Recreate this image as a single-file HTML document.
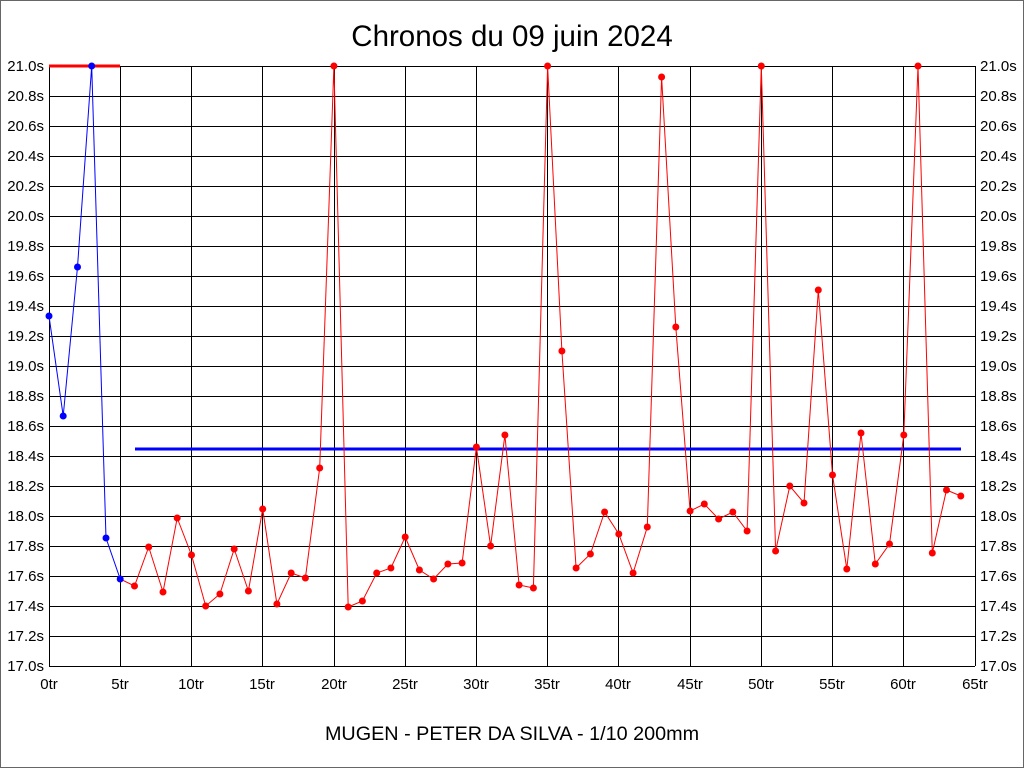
<!DOCTYPE html>
<html><head><style>body{margin:0;background:#fff}svg{display:block}</style></head><body>
<svg width="1024" height="768" xmlns="http://www.w3.org/2000/svg" font-family="Liberation Sans, sans-serif">
<rect x="0.5" y="0.5" width="1023" height="767" fill="#fff" stroke="#666"/>
<text x="512" y="46" font-size="29.5" text-anchor="middle">Chronos du 09 juin 2024</text>
<text x="512" y="740" font-size="19.8" text-anchor="middle">MUGEN - PETER DA SILVA - 1/10 200mm</text>
<g stroke="#000" stroke-width="1">
<line x1="49" x2="975" y1="66.5" y2="66.5"/><line x1="49" x2="975" y1="96.5" y2="96.5"/><line x1="49" x2="975" y1="126.5" y2="126.5"/><line x1="49" x2="975" y1="156.5" y2="156.5"/><line x1="49" x2="975" y1="186.5" y2="186.5"/><line x1="49" x2="975" y1="216.5" y2="216.5"/><line x1="49" x2="975" y1="246.5" y2="246.5"/><line x1="49" x2="975" y1="276.5" y2="276.5"/><line x1="49" x2="975" y1="306.5" y2="306.5"/><line x1="49" x2="975" y1="336.5" y2="336.5"/><line x1="49" x2="975" y1="366.5" y2="366.5"/><line x1="49" x2="975" y1="396.5" y2="396.5"/><line x1="49" x2="975" y1="426.5" y2="426.5"/><line x1="49" x2="975" y1="456.5" y2="456.5"/><line x1="49" x2="975" y1="486.5" y2="486.5"/><line x1="49" x2="975" y1="516.5" y2="516.5"/><line x1="49" x2="975" y1="546.5" y2="546.5"/><line x1="49" x2="975" y1="576.5" y2="576.5"/><line x1="49" x2="975" y1="606.5" y2="606.5"/><line x1="49" x2="975" y1="636.5" y2="636.5"/><line x1="49" x2="975" y1="666.5" y2="666.5"/>
<line y1="66" y2="666" x1="49.5" x2="49.5"/><line y1="66" y2="666" x1="120.5" x2="120.5"/><line y1="66" y2="666" x1="191.5" x2="191.5"/><line y1="66" y2="666" x1="262.5" x2="262.5"/><line y1="66" y2="666" x1="334.5" x2="334.5"/><line y1="66" y2="666" x1="405.5" x2="405.5"/><line y1="66" y2="666" x1="476.5" x2="476.5"/><line y1="66" y2="666" x1="547.5" x2="547.5"/><line y1="66" y2="666" x1="618.5" x2="618.5"/><line y1="66" y2="666" x1="690.5" x2="690.5"/><line y1="66" y2="666" x1="761.5" x2="761.5"/><line y1="66" y2="666" x1="832.5" x2="832.5"/><line y1="66" y2="666" x1="903.5" x2="903.5"/><line y1="66" y2="666" x1="975.5" x2="975.5"/>
</g>
<g font-size="15" text-anchor="end">
<text x="44" y="71">21.0s</text><text x="44" y="101">20.8s</text><text x="44" y="131">20.6s</text><text x="44" y="161">20.4s</text><text x="44" y="191">20.2s</text><text x="44" y="221">20.0s</text><text x="44" y="251">19.8s</text><text x="44" y="281">19.6s</text><text x="44" y="311">19.4s</text><text x="44" y="341">19.2s</text><text x="44" y="371">19.0s</text><text x="44" y="401">18.8s</text><text x="44" y="431">18.6s</text><text x="44" y="461">18.4s</text><text x="44" y="491">18.2s</text><text x="44" y="521">18.0s</text><text x="44" y="551">17.8s</text><text x="44" y="581">17.6s</text><text x="44" y="611">17.4s</text><text x="44" y="641">17.2s</text><text x="44" y="671">17.0s</text>
</g>
<g font-size="15">
<text x="980" y="71">21.0s</text><text x="980" y="101">20.8s</text><text x="980" y="131">20.6s</text><text x="980" y="161">20.4s</text><text x="980" y="191">20.2s</text><text x="980" y="221">20.0s</text><text x="980" y="251">19.8s</text><text x="980" y="281">19.6s</text><text x="980" y="311">19.4s</text><text x="980" y="341">19.2s</text><text x="980" y="371">19.0s</text><text x="980" y="401">18.8s</text><text x="980" y="431">18.6s</text><text x="980" y="461">18.4s</text><text x="980" y="491">18.2s</text><text x="980" y="521">18.0s</text><text x="980" y="551">17.8s</text><text x="980" y="581">17.6s</text><text x="980" y="611">17.4s</text><text x="980" y="641">17.2s</text><text x="980" y="671">17.0s</text>
</g>
<g font-size="15" text-anchor="middle">
<text x="49" y="689">0tr</text><text x="120" y="689">5tr</text><text x="191" y="689">10tr</text><text x="262" y="689">15tr</text><text x="334" y="689">20tr</text><text x="405" y="689">25tr</text><text x="476" y="689">30tr</text><text x="547" y="689">35tr</text><text x="618" y="689">40tr</text><text x="690" y="689">45tr</text><text x="761" y="689">50tr</text><text x="832" y="689">55tr</text><text x="903" y="689">60tr</text><text x="975" y="689">65tr</text>
</g>
<line x1="49" x2="120" y1="66" y2="66" stroke="#f00" stroke-width="3"/>
<line x1="135" x2="961" y1="449" y2="449" stroke="#00f" stroke-width="3"/>
<polyline fill="none" stroke="#00f" stroke-width="1" points="49,316 63.2,416 77.5,267 91.7,66 106,538 120.2,579"/>
<polyline fill="none" stroke="#f00" stroke-width="1" points="120.2,579 134.5,586 148.7,547 163,592 177.2,518 191.5,555 205.7,606 219.9,594 234.2,549 248.4,591 262.7,509 276.9,604 291.2,573 305.4,578 319.7,468 333.9,66 348.2,607 362.4,601 376.7,573 390.9,568 405.2,537 419.4,570 433.6,579 447.9,564 462.1,563 476.4,447 490.6,546 504.9,435 519.1,585 533.4,588 547.6,66 561.9,351 576.1,568 590.4,554 604.6,512 618.8,534 633.1,573 647.3,527 661.6,77 675.8,327 690.1,511 704.3,504 718.6,519 732.8,512 747.1,531 761.3,66 775.6,551 789.8,486 804,503 818.3,290 832.5,475 846.8,569 861,433 875.3,564 889.5,544 903.8,435 918,66 932.3,553 946.5,490 960.8,496"/>
<g fill="#00f">
<circle cx="49" cy="316" r="3.5"/><circle cx="63.2" cy="416" r="3.5"/><circle cx="77.5" cy="267" r="3.5"/><circle cx="91.7" cy="66" r="3.5"/><circle cx="106" cy="538" r="3.5"/><circle cx="120.2" cy="579" r="3.5"/>
</g>
<g fill="#f00">
<circle cx="134.5" cy="586" r="3.5"/><circle cx="148.7" cy="547" r="3.5"/><circle cx="163" cy="592" r="3.5"/><circle cx="177.2" cy="518" r="3.5"/><circle cx="191.5" cy="555" r="3.5"/><circle cx="205.7" cy="606" r="3.5"/><circle cx="219.9" cy="594" r="3.5"/><circle cx="234.2" cy="549" r="3.5"/><circle cx="248.4" cy="591" r="3.5"/><circle cx="262.7" cy="509" r="3.5"/><circle cx="276.9" cy="604" r="3.5"/><circle cx="291.2" cy="573" r="3.5"/><circle cx="305.4" cy="578" r="3.5"/><circle cx="319.7" cy="468" r="3.5"/><circle cx="333.9" cy="66" r="3.5"/><circle cx="348.2" cy="607" r="3.5"/><circle cx="362.4" cy="601" r="3.5"/><circle cx="376.7" cy="573" r="3.5"/><circle cx="390.9" cy="568" r="3.5"/><circle cx="405.2" cy="537" r="3.5"/><circle cx="419.4" cy="570" r="3.5"/><circle cx="433.6" cy="579" r="3.5"/><circle cx="447.9" cy="564" r="3.5"/><circle cx="462.1" cy="563" r="3.5"/><circle cx="476.4" cy="447" r="3.5"/><circle cx="490.6" cy="546" r="3.5"/><circle cx="504.9" cy="435" r="3.5"/><circle cx="519.1" cy="585" r="3.5"/><circle cx="533.4" cy="588" r="3.5"/><circle cx="547.6" cy="66" r="3.5"/><circle cx="561.9" cy="351" r="3.5"/><circle cx="576.1" cy="568" r="3.5"/><circle cx="590.4" cy="554" r="3.5"/><circle cx="604.6" cy="512" r="3.5"/><circle cx="618.8" cy="534" r="3.5"/><circle cx="633.1" cy="573" r="3.5"/><circle cx="647.3" cy="527" r="3.5"/><circle cx="661.6" cy="77" r="3.5"/><circle cx="675.8" cy="327" r="3.5"/><circle cx="690.1" cy="511" r="3.5"/><circle cx="704.3" cy="504" r="3.5"/><circle cx="718.6" cy="519" r="3.5"/><circle cx="732.8" cy="512" r="3.5"/><circle cx="747.1" cy="531" r="3.5"/><circle cx="761.3" cy="66" r="3.5"/><circle cx="775.6" cy="551" r="3.5"/><circle cx="789.8" cy="486" r="3.5"/><circle cx="804" cy="503" r="3.5"/><circle cx="818.3" cy="290" r="3.5"/><circle cx="832.5" cy="475" r="3.5"/><circle cx="846.8" cy="569" r="3.5"/><circle cx="861" cy="433" r="3.5"/><circle cx="875.3" cy="564" r="3.5"/><circle cx="889.5" cy="544" r="3.5"/><circle cx="903.8" cy="435" r="3.5"/><circle cx="918" cy="66" r="3.5"/><circle cx="932.3" cy="553" r="3.5"/><circle cx="946.5" cy="490" r="3.5"/><circle cx="960.8" cy="496" r="3.5"/>
</g>
</svg>
</body></html>
